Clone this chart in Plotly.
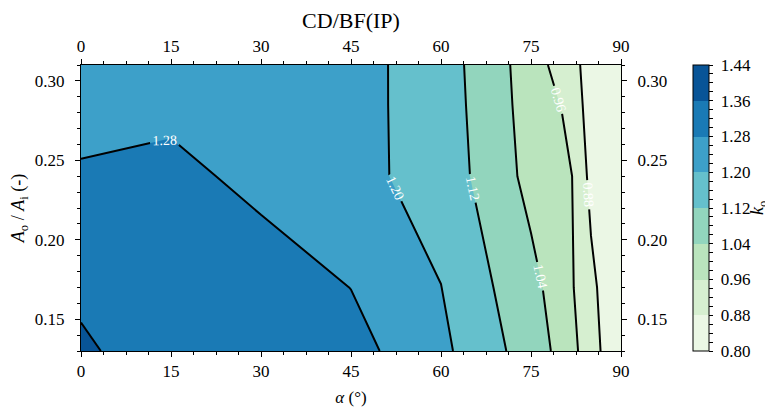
import plotly.graph_objects as go

# ---- data ----
alpha_deg = [0, 15, 30, 45, 60, 75, 80, 85, 90]          # x grid (alpha, degrees)
area_ratio = [0.13, 0.17, 0.24, 0.285, 0.31]              # y grid (Ao/Ai)
k_o = [
    [1.377, 1.300, 1.315, 1.309, 1.218, 1.083, 1.018, 0.916, 0.803],  # 0.13
    [1.339, 1.310, 1.327, 1.279, 1.201, 1.062, 1.005, 0.899, 0.805],  # 0.17
    [1.288, 1.305, 1.255, 1.223, 1.169, 1.017, 1.020, 0.858, 0.806],  # 0.24
    [1.255, 1.258, 1.250, 1.226, 1.163, 1.008, 0.958, 0.850, 0.810],  # 0.285
    [1.250, 1.250, 1.245, 1.228, 1.160, 1.004, 0.926, 0.854, 0.812],  # 0.31
]
level_start, level_end, level_step = 0.80, 1.44, 0.08
x_ticks = [0, 15, 30, 45, 60, 75, 90]
cb_major = [0.80, 0.88, 0.96, 1.04, 1.12, 1.20, 1.28, 1.36, 1.44]

# GnBu band colours (8 bands)
band_colors = ["#ebf7e5", "#d6efd0", "#bae4bd", "#92d5bd",
               "#65c0cc", "#3da0c9", "#1a7ab5", "#085497"]

FONT = "Liberation Serif"
n = len(band_colors)

# contour fill colourscale (plotly samples band k at k/(n+1))
cs_fill = [[0.0, band_colors[0]]]
for k in range(1, n):
    p = (k + 0.5) / (n + 1)
    cs_fill += [[p, band_colors[k - 1]], [p, band_colors[k]]]
cs_fill.append([1.0, band_colors[-1]])

# colourbar scale: 8 equal steps over [0.80, 1.44]
cs_bar = []
for k, c in enumerate(band_colors):
    cs_bar += [[k / n, c], [(k + 1) / n, c]]

# colorbar ticks with minor marks
cb_vals = [round(level_start + 0.02 * i, 2) for i in range(33)]
cb_text = ["\u00a0" + f"{v:.2f}" if any(abs(v - m) < 1e-9 for m in cb_major) else "\u00a0"
           for v in cb_vals]

fig = go.Figure()
fig.add_trace(go.Contour(
    x=alpha_deg, y=area_ratio, z=k_o,
    autocontour=False,
    contours=dict(start=level_start, end=level_end, size=level_step,
                  coloring="fill", showlabels=True, labelformat=".2f",
                  labelfont=dict(color="white", size=14, family=FONT)),
    line=dict(color="black", width=2, smoothing=0),
    colorscale=cs_fill,
    showscale=False,
    hoverinfo="skip",
))
# helper trace: draws top / right axes and carries the colour bar
fig.add_trace(go.Scatter(
    x=[None], y=[None], xaxis="x2", yaxis="y2", mode="markers",
    showlegend=False, hoverinfo="skip",
    marker=dict(color=[1.0], cmin=level_start, cmax=level_end, colorscale=cs_bar,
                showscale=True,
                colorbar=dict(
                    x=(693 - 81) / 540, xanchor="left", xpad=0,
                    y=0.5, yanchor="middle", len=1, lenmode="fraction", ypad=0,
                    thickness=16, thicknessmode="pixels",
                    outlinecolor="black", outlinewidth=1,
                    tickmode="array", tickvals=cb_vals, ticktext=cb_text,
                    ticks="outside", ticklen=4, tickwidth=1, tickcolor="black",
                    tickfont=dict(family=FONT, size=17, color="black"),
                )),
))

axis_common = dict(showline=True, linecolor="black", linewidth=1,
                   ticks="outside", ticklen=5, tickwidth=1, tickcolor="black",
                   tickfont=dict(family=FONT, size=17, color="black"),
                   showgrid=False, zeroline=False, automargin=False)
minor_x = dict(dtick=3.75, tick0=0, ticks="outside", ticklen=3, tickcolor="black")
minor_y = dict(dtick=0.01, tick0=0, ticks="outside", ticklen=3, tickcolor="black")

# page body has an 8px margin; the figure is sized so the plot area lands at 81..621 x 65..351
fig.update_layout(
    width=765, height=405,
    margin=dict(l=73, r=152, t=57, b=62),
    paper_bgcolor="white", plot_bgcolor="white",
    font=dict(family=FONT, color="black"),
    xaxis=dict(range=[0, 90], tickmode="array", tickvals=x_ticks, minor=minor_x,
               title=dict(text="<i>α</i> (°)", font=dict(size=17), standoff=10),
               **axis_common),
    yaxis=dict(range=[0.13, 0.31], dtick=0.05, tick0=0, tickformat=".2f", minor=minor_y,
               ticklabelstandoff=7,
               title=dict(text="<i>A</i><sub>o</sub> / <i>A</i><sub>i</sub> (-)",
                          font=dict(size=18), standoff=8),
               **axis_common),
    xaxis2=dict(range=[0, 90], overlaying="x", side="top", anchor="y",
                tickmode="array", tickvals=x_ticks, minor=minor_x,
                title=dict(text="CD/BF(IP)", font=dict(size=22), standoff=2),
                **axis_common),
    yaxis2=dict(range=[0.13, 0.31], overlaying="y", side="right", anchor="x",
                dtick=0.05, tick0=0, tickformat=".2f", minor=minor_y,
                ticklabelstandoff=7,
                **axis_common),
    annotations=[dict(text="<i>k</i><sub>o</sub>", xref="paper", yref="paper",
                      x=(758 - 81) / 540, y=0.5, xanchor="center", yanchor="middle",
                      textangle=-90, showarrow=False,
                      font=dict(family=FONT, size=18, color="black"))],
    showlegend=False,
)

fig.write_html("out.html")
